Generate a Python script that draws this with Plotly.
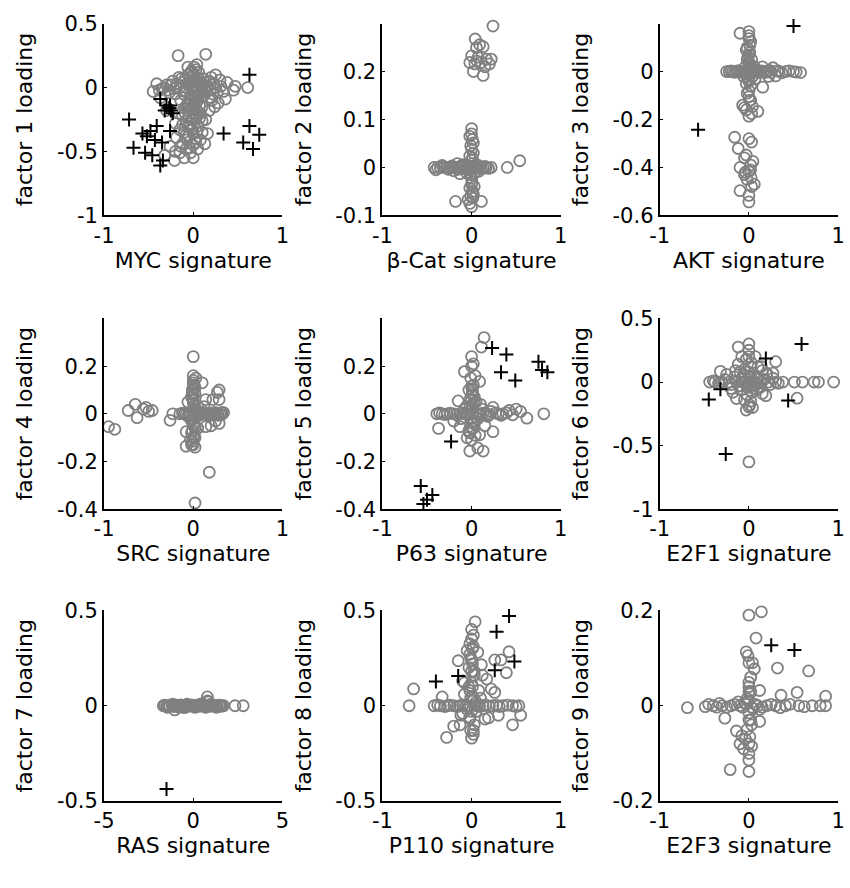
import plotly.graph_objects as go

# ---------------- data ----------------
x_titles = ["MYC signature", "β-Cat signature", "AKT signature",
            "SRC signature", "P63 signature", "E2F1 signature",
            "RAS signature", "P110 signature", "E2F3 signature"]
y_titles = ["factor %d loading" % i for i in range(1, 10)]

# Panel 1 (MYC)
p1_cx = [-0.17, 0.14, 0.01, 0.03, -0.06, 0.06, 0.25, -0.06, 0.38, 0.47, 0.61, 0.34, 0.36, 0.21, 0.18, 0.07, 0.16, 0.03, -0.08, -0.10,
         -0.21, -0.32, -0.41, -0.45, -0.37, -0.23, -0.15, 0.07, -0.03, -0.06, -0.12, -0.01, 0.08, -0.19, -0.26, -0.15, -0.03, 0.14, 0.25, 0.10,
         0.03, -0.14, -0.30, 0.14, -0.33, -0.28, -0.20, -0.10, 0.00, 0.02, -0.04, 0.05, 0.00, -0.02, 0.00, -0.05, -0.08, -0.03, 0.02, 0.05,
         -0.10, -0.05, 0.00, -0.12, 0.10, 0.12, 0.18, 0.30, 0.22, 0.28, -0.38, -0.25, 0.05, -0.08, 0.08, -0.16, -0.20, 0.10, 0.00, 0.45, 0.20,
         0.04, -0.02, 0.01, -0.07, 0.03, 0.06,
         -0.35, -0.30, -0.27, -0.22, -0.18, -0.12, -0.09, -0.05, -0.01, 0.02, 0.04, 0.07, 0.10, 0.13, 0.16, 0.19, 0.23, 0.27, 0.31, -0.01,
         0.03, -0.06, -0.02, 0.03, -0.09, 0.00, -0.04, 0.04, -0.07, 0.05, -0.14, -0.20, -0.10, 0.07, 0.10, -0.15, 0.13, -0.02, 0.02, -0.16,
         -0.04, 0.01, 0.04, -0.07, -0.11, 0.06, -0.03, 0.01, -0.05, 0.04, -0.02, -0.06, 0.00, -0.09, 0.02, -0.04, 0.09, 0.15, 0.11, -0.13,
         -0.19, 0.20, 0.24, 0.08, -0.12]
p1_cy = [0.25, 0.26, 0.16, 0.14, 0.16, 0.12, 0.10, 0.10, 0.04, 0.01, 0.00, -0.03, -0.09, -0.10, -0.18, -0.24, -0.36, -0.43, -0.48, -0.55,
         -0.57, -0.53, 0.03, -0.03, -0.08, 0.05, 0.00, 0.04, -0.06, -0.18, -0.29, -0.33, -0.41, -0.39, -0.46, -0.51, -0.51, 0.04, 0.00, -0.01,
         -0.13, -0.10, -0.18, -0.25, 0.00, -0.02, -0.05, -0.03, 0.00, -0.03, 0.04, 0.07, 0.09, -0.10, -0.15, -0.22, -0.26, -0.28, -0.20, -0.30,
         -0.35, -0.38, -0.45, -0.44, -0.15, -0.06, 0.05, 0.06, -0.05, -0.12, -0.02, 0.02, -0.10, 0.00, 0.02, -0.20, -0.28, -0.35, -0.55, -0.02, 0.08,
         0.18, 0.13, -0.07, -0.14, -0.24, -0.02,
         -0.01, 0.02, -0.04, -0.01, 0.03, 0.04, 0.07, 0.02, 0.05, 0.02, -0.01, -0.04, 0.02, -0.02, 0.00, -0.02, 0.03, -0.04, 0.01, -0.06,
         -0.08, -0.12, -0.17, -0.18, -0.20, -0.24, -0.31, -0.35, -0.41, -0.48, -0.46, -0.50, -0.16, -0.14, -0.26, -0.33, -0.44, 0.12, 0.07, 0.08,
         0.08, 0.10, 0.05, 0.03, -0.05, -0.07, -0.10, -0.12, -0.14, -0.22, -0.25, -0.30, -0.36, -0.38, -0.40, -0.47, 0.00, -0.03, 0.07, 0.07,
         0.00, -0.08, -0.15, -0.20, -0.22]
p1_px = [0.63, -0.37, -0.32, -0.26, -0.25, -0.23, -0.72, -0.57, -0.52, -0.48, -0.41, -0.43, -0.35, -0.26, -0.67, -0.54, -0.46, -0.34, -0.37,
         0.34, 0.63, 0.74, 0.56, 0.67, -0.30, -0.27]
p1_py = [0.10, -0.09, -0.18, -0.14, -0.18, -0.20, -0.25, -0.36, -0.38, -0.34, -0.30, -0.41, -0.43, -0.34, -0.47, -0.51, -0.53, -0.57, -0.61,
         -0.36, -0.30, -0.37, -0.43, -0.48, -0.14, -0.16]

# Panel 2 (beta-Cat)
p2_cx = [0.24, 0.04, 0.09, 0.13, 0.055, 0.00, 0.074, 0.165, 0.22, -0.02, 0.037, 0.11, 0.20, 0.02, 0.13, 0.06, 0.15,
         0.00, -0.02, 0.02, 0.00, -0.02, 0.02, 0.00, 0.01, -0.01, 0.00, -0.02, 0.02, -0.04, 0.00, 0.01, -0.18, 0.11, 0.00, 0.03,
         -0.42, -0.38, -0.35, -0.31, -0.28, -0.24, -0.20, -0.17, -0.13, -0.09, -0.055, -0.03, 0.03, 0.06, 0.09, 0.13, 0.165, 0.22,
         0.40, 0.54, -0.13, -0.20, -0.05, 0.07, -0.10,
         -0.40, -0.33, -0.26, -0.22, -0.15, -0.11, -0.07, -0.01, 0.01, 0.05, 0.11, 0.15, 0.19, 0.08, -0.16,
         0.00, 0.01, -0.01, 0.01, -0.005, 0.005, -0.01, 0.015, -0.02, 0.03]
p2_cy = [0.295, 0.268, 0.256, 0.252, 0.250, 0.233, 0.230, 0.226, 0.226, 0.219, 0.216, 0.219, 0.216, 0.200, 0.192, 0.222, 0.210,
         0.081, 0.065, 0.051, 0.038, 0.024, 0.030, 0.015, 0.008, -0.005, -0.023, -0.043, -0.056, -0.067, -0.035, -0.050, -0.071, -0.071, -0.082, -0.012,
         0.0, 0.0, 0.0, 0.0, 0.0, 0.0, 0.0, 0.0, 0.0, 0.0, 0.0, 0.0, 0.0, 0.0, 0.0, 0.0, 0.0, 0.0,
         0.0, 0.014, -0.013, -0.007, -0.012, 0.005, 0.006,
         -0.005, 0.004, -0.004, 0.003, -0.004, 0.003, -0.003, 0.002, -0.003, 0.003, -0.003, 0.002, -0.002, -0.008, 0.008,
         0.070, 0.058, 0.045, 0.020, -0.015, -0.030, -0.060, -0.064, -0.075, -0.040]
p2_px = []
p2_py = []

# Panel 3 (AKT)
p3_cx = [-0.10, 0.00, 0.00, 0.01, 0.00, 0.00, -0.03, 0.02, -0.02,
         -0.25, -0.22, -0.18, -0.14, -0.10, -0.06, -0.03, 0.03, 0.06, 0.09, 0.12, 0.16, 0.19, 0.27, 0.34, 0.41, 0.50, 0.58, 0.30, 0.155, 0.23,
         0.00, 0.00, 0.00, -0.07, 0.04, 0.10, 0.00, -0.02, 0.02,
         -0.16, 0.00, 0.03, -0.12, -0.03, 0.045, -0.10, 0.00, 0.025, 0.06, -0.10, 0.00, 0.00, 0.02, -0.05,
         -0.20, -0.16, -0.12, -0.08, -0.04, -0.01, 0.01, 0.05, 0.08, 0.11, 0.14, 0.18, 0.21, 0.25, 0.32, 0.37, 0.45, 0.53,
         0.00, 0.02, -0.02, 0.01, -0.01, 0.00, 0.01, -0.01, 0.00, 0.02, -0.02, 0.01, -0.03, 0.03, -0.05,
         -0.05, 0.02, -0.02, 0.03, -0.04,
         -0.04, 0.04, -0.03, 0.03, 0.06, -0.06, 0.07, 0.15, 0.22]
p3_cy = [0.16, 0.167, 0.138, 0.11, 0.07, 0.04, 0.09, 0.02, 0.05,
         0.0, 0.0, 0.0, 0.0, 0.0, 0.0, 0.0, 0.0, 0.0, 0.0, 0.0, 0.0, 0.0, 0.016, 0.0, 0.0, 0.0, -0.004, -0.018, -0.065, 0.005,
         -0.04, -0.08, -0.105, -0.14, -0.146, -0.166, -0.186, -0.02, -0.12,
         -0.274, -0.28, -0.294, -0.321, -0.348, -0.375, -0.40, -0.416, -0.443, -0.47, -0.497, -0.517, -0.544, -0.39, -0.43,
         0.003, -0.003, 0.004, -0.004, 0.003, -0.002, 0.003, -0.003, 0.004, -0.004, 0.003, -0.004, 0.003, -0.004, 0.004, -0.005, 0.003, -0.002,
         0.15, 0.125, 0.10, 0.08, 0.06, 0.03, 0.015, -0.01, -0.03, -0.06, -0.09, -0.12, -0.16, -0.175, -0.15,
         -0.36, -0.41, -0.45, -0.48, -0.42,
         0.02, -0.02, -0.05, 0.05, 0.02, -0.02, -0.03, 0.02, -0.02]
p3_px = [0.50, -0.57]
p3_py = [0.19, -0.243]

# Panel 4 (SRC)
p4_cx = [-0.95, -0.88, -0.73, -0.65, -0.63, -0.56, -0.53, -0.50, -0.46, -0.26, -0.23,
         0.00, 0.00, 0.10, 0.14, 0.29, 0.27, 0.29, -0.06, 0.02, 0.00, 0.05, -0.02,
         -0.15, -0.10, -0.05, 0.03, 0.08, 0.12, 0.17, 0.21, 0.25, 0.30,
         0.29, 0.14, -0.08, 0.02, -0.08, 0.00, 0.05, 0.18, 0.02, 0.00, -0.03, 0.03,
         0.00, 0.01, -0.01, 0.02, -0.02, 0.00, 0.01, -0.01, 0.00, 0.02, -0.02, 0.01, -0.01, 0.02, -0.02, 0.03,
         -0.12, -0.08, -0.03, 0.05, 0.10, 0.15, 0.19, 0.23, 0.27, 0.32, 0.34, 0.25, 0.20, 0.22, 0.12,
         0.00, 0.01, -0.01, 0.00, 0.01, -0.01, 0.00, 0.01, -0.01, 0.00, 0.07, 0.13, 0.18, 0.24, 0.28, 0.32, -0.06, 0.04]
p4_cy = [-0.054, -0.065, 0.014, 0.04, -0.016, 0.02, 0.027, 0.01, 0.014, -0.027, 0.0,
         0.24, 0.16, 0.13, 0.06, 0.10, 0.09, 0.06, 0.05, 0.11, 0.08, 0.03, -0.03,
         0.0, 0.0, 0.0, 0.0, 0.0, 0.0, 0.0, 0.0, 0.0, 0.0,
         -0.04, -0.054, -0.075, -0.10, -0.136, -0.13, -0.06, -0.245, -0.374, 0.12, -0.11, 0.02,
         0.14, 0.12, 0.10, 0.085, 0.07, 0.045, 0.02, -0.02, -0.04, -0.06, -0.08, -0.095, -0.115, -0.14, -0.13, 0.15,
         0.003, -0.003, 0.003, -0.003, 0.003, -0.003, 0.003, -0.003, 0.003, -0.003, 0.005, -0.03, -0.05, 0.06, 0.03,
         0.13, 0.11, 0.09, 0.06, 0.035, 0.01, -0.01, -0.05, -0.07, -0.1, -0.006, 0.006, -0.006, 0.006, -0.006, 0.006, -0.01, 0.01]
p4_px = []
p4_py = []

# Panel 5 (P63)
p5_cx = [0.14, 0.11, 0.00, -0.08, 0.02, 0.09, 0.00, -0.15, 0.03, 0.04, -0.02, 0.01,
         -0.39, -0.33, -0.27, -0.20, -0.13, -0.07, 0.05, 0.10, 0.17, 0.24, 0.30, 0.35, 0.42, 0.50, 0.55, 0.62, 0.81,
         -0.37, -0.13, 0.00, 0.09, 0.24, -0.02, 0.07, 0.13, 0.03, -0.05, 0.06,
         0.00, -0.01, 0.02, -0.03, 0.01, -0.02, 0.03, 0.00, -0.01, 0.02, -0.03, 0.04, 0.00, 0.05, -0.06,
         -0.36, -0.30, -0.24, -0.17, -0.10, -0.04, 0.02, 0.08, 0.13, 0.20, 0.27, 0.33, 0.39, 0.46, 0.15, -0.20, 0.10,
         0.00, 0.01, -0.01, 0.00, 0.02, -0.02, 0.01, -0.08, 0.07, -0.12, 0.12, 0.18, 0.22]
p5_cy = [0.32, 0.28, 0.24, 0.177, 0.21, 0.136, 0.116, 0.054, 0.07, 0.16, 0.03, 0.09,
         0.0, 0.0, 0.0, 0.0, 0.0, 0.0, 0.0, 0.0, 0.0, 0.027, 0.0, 0.0, 0.014, 0.02, 0.01, -0.018, 0.0,
         -0.061, -0.054, -0.06, -0.088, -0.075, -0.156, -0.143, -0.156, -0.03, -0.10, -0.02,
         0.20, 0.15, 0.12, 0.10, 0.08, 0.06, 0.045, 0.025, -0.02, -0.04, -0.07, -0.09, -0.11, 0.05, 0.03,
         0.004, -0.003, 0.003, -0.004, 0.003, -0.003, 0.002, -0.003, 0.003, -0.003, 0.004, -0.006, 0.004, -0.004, -0.05, -0.03, 0.04,
         0.06, 0.035, 0.015, -0.035, -0.06, -0.08, 0.1, 0.02, -0.02, -0.02, 0.02, -0.01, 0.01]
p5_px = [0.23, 0.39, 0.75, 0.79, 0.85, 0.33, 0.49, -0.23, -0.57, -0.44, -0.50, -0.54]
p5_py = [0.276, 0.249, 0.218, 0.184, 0.174, 0.174, 0.14, -0.116, -0.303, -0.34, -0.36, -0.378]

# Panel 6 (E2F1)
p6_cx = [0.00, -0.12, 0.30, 0.14, -0.32, 0.27, 0.00, 0.03, -0.05, 0.00, 0.05, -0.02, 0.02, -0.08, 0.08,
         -0.44, -0.38, -0.30, -0.22, -0.14, -0.07, 0.07, 0.14, 0.22, 0.30, 0.38, 0.51, 0.60, 0.73, 0.78, 0.95,
         0.54, -0.14, 0.19, 0.00, -0.03, 0.00, -0.20, 0.20, 0.10, -0.10,
         -0.40, -0.34, -0.27, -0.20, -0.16, -0.11, -0.06, -0.02, 0.02, 0.06, 0.10, 0.13, 0.17, 0.24, 0.27, 0.33,
         0.00, -0.03, 0.02, -0.01, 0.04, -0.05, 0.01, 0.04, -0.12, 0.10, 0.15, -0.18, -0.25, 0.20, -0.08, 0.07,
         -0.04, 0.04, -0.09, 0.09, -0.15, 0.15, 0.0, 0.0]
p6_cy = [0.30, 0.275, 0.16, 0.122, 0.084, 0.07, 0.20, 0.15, 0.10, 0.05, -0.05, -0.10, -0.15, 0.03, 0.03,
         0.0, 0.0, 0.0, 0.0, 0.0, 0.0, 0.0, 0.0, 0.0, 0.0, 0.0, 0.0, 0.0, 0.0, 0.0, 0.0,
         -0.127, -0.13, -0.107, -0.196, -0.22, -0.628, -0.05, 0.06, -0.04, 0.08,
         0.01, -0.01, 0.02, -0.02, 0.04, -0.03, 0.05, -0.04, 0.04, -0.02, 0.03, -0.04, 0.02, -0.02, 0.03, -0.01,
         0.25, 0.18, 0.12, 0.08, -0.08, -0.14, -0.18, -0.20, 0.14, 0.12, -0.09, -0.08, 0.06, 0.07, 0.20, 0.20,
         0.0, 0.0, -0.06, -0.06, 0.09, 0.09, 0.02, -0.02]
p6_px = [0.59, 0.19, -0.32, -0.45, 0.44, -0.26]
p6_py = [0.30, 0.186, -0.056, -0.137, -0.145, -0.565]

# Panel 7 (RAS)
p7_cx = [-1.68, -1.50, -1.32, -1.04, -0.90, -0.77, -0.60, -0.45, -0.30, -0.15, 0.00, 0.15, 0.30, 0.45, 0.60, 0.79, 0.90, 1.05,
         1.20, 1.35, 1.50, 1.60, 2.34, 2.80, 0.85, -0.50, 0.50,
         -1.60, -1.40, -1.20, -1.10, -0.95, -0.85, -0.70, -0.55, -0.40, -0.25, -0.10, 0.05, 0.20, 0.35, 0.65, 0.75, 0.95, 1.10,
         1.25, 1.45, 1.55, 0.80,
         -1.45, -1.15, -0.80, -0.35, 0.10, 0.40, 0.70, 1.00, 1.30, 1.70]
p7_cy = [0.0, 0.0, 0.0, -0.022, 0.0, 0.0, 0.0, 0.0, 0.0, 0.0, 0.0, 0.0, 0.0, 0.0, 0.0, 0.046, 0.0, 0.0,
         0.0, 0.0, 0.0, 0.0, 0.0, 0.0, 0.02, -0.01, 0.01,
         0.003, -0.003, 0.004, -0.004, 0.003, -0.003, 0.004, -0.004, 0.003, -0.003, 0.004, -0.004, 0.003, -0.003, -0.004, 0.003, -0.003, 0.004,
         -0.004, 0.003, -0.003, 0.025,
         -0.008, 0.008, -0.008, 0.008, -0.008, 0.008, -0.008, 0.008, -0.008, 0.0]
p7_px = [-1.5]
p7_py = [-0.437]

# Panel 8 (P110)
p8_cx = [0.04, 0.00, 0.02, -0.02, -0.05, 0.00, -0.15, 0.11, 0.26, 0.33, 0.42, 0.39, 0.22, 0.26, 0.17, 0.03, -0.03, 0.01,
         -0.65, -0.70, -0.33, -0.42, -0.35, -0.27, -0.20, -0.13, -0.06, 0.06, 0.13, 0.24, 0.35, 0.46, 0.53,
         0.55, 0.46, 0.19, -0.28, -0.20, -0.13, 0.02, -0.02, 0.05, -0.08,
         0.00, 0.02, -0.02, 0.01, -0.03, 0.03, 0.00, -0.02, 0.02, 0.00, -0.02, 0.03, -0.01, 0.02, 0.00,
         -0.38, -0.30, -0.24, -0.16, -0.10, -0.03, 0.03, 0.09, 0.16, 0.20, 0.28, 0.31, 0.40, 0.50,
         -0.08, 0.08, 0.12, -0.10, 0.15, -0.12, 0.30, 0.07,
         0.01, -0.01, 0.00, 0.01, -0.01, 0.05, -0.05, 0.1, -0.1]
p8_cy = [0.44, 0.40, 0.37, 0.325, 0.29, 0.24, 0.236, 0.215, 0.24, 0.24, 0.283, 0.173, 0.088, 0.07, 0.14, 0.18, 0.10, 0.05,
         0.088, 0.0, 0.046, 0.0, 0.0, 0.0, 0.0, 0.0, 0.0, 0.0, 0.0, 0.0, 0.0, 0.0, 0.0,
         -0.05, -0.10, -0.064, -0.166, -0.107, -0.10, -0.13, -0.06, -0.03, 0.12,
         0.35, 0.31, 0.27, 0.22, 0.20, 0.16, 0.12, 0.08, 0.03, -0.03, -0.07, -0.10, -0.13, -0.15, -0.17,
         0.004, -0.004, 0.003, -0.004, 0.003, -0.003, 0.003, -0.004, 0.004, -0.003, 0.003, -0.004, 0.003, -0.004,
         0.06, 0.08, 0.16, 0.13, -0.07, -0.05, -0.05, 0.28,
         0.30, 0.25, 0.18, 0.10, 0.04, 0.02, -0.02, 0.04, -0.04]
p8_px = [0.42, 0.28, 0.48, 0.26, -0.15, -0.40]
p8_py = [0.47, 0.388, 0.232, 0.186, 0.156, 0.127]

# Panel 9 (E2F3)
p9_cx = [0.14, 0.00, 0.08, -0.03, 0.00, 0.06, 0.32, 0.67, 0.00, 0.12, 0.36, 0.54, 0.86, 0.02, -0.02,
         -0.69, -0.49, -0.40, -0.30, -0.20, -0.10, 0.10, 0.20, 0.30, 0.41, 0.56, 0.71, 0.80, 0.86,
         -0.27, 0.12, -0.14, -0.08, -0.10, 0.00, 0.00, 0.00, -0.21, 0.00, 0.03,
         -0.45, -0.36, -0.33, -0.25, -0.16, -0.07, -0.03, 0.03, 0.07, 0.15, 0.25, 0.35, 0.46, 0.62,
         0.00, 0.01, -0.01, 0.00, 0.02, -0.02, 0.01, -0.04, 0.03, -0.06, 0.02, -0.01, 0.04,
         -0.05, 0.05, -0.12, 0.12, 0.0, 0.0]
p9_cy = [0.197, 0.19, 0.142, 0.113, 0.09, 0.077, 0.079, 0.073, 0.049, 0.032, 0.022, 0.028, 0.02, 0.03, 0.015,
         -0.004, -0.002, 0.0, 0.0, 0.0, 0.0, 0.0, 0.0, 0.0, 0.0, 0.0, 0.0, 0.0, 0.0,
         -0.026, -0.033, -0.053, -0.063, -0.08, -0.08, -0.10, -0.114, -0.134, -0.138, -0.04,
         0.003, -0.003, 0.005, -0.003, 0.003, -0.003, 0.003, -0.003, 0.003, -0.003, 0.003, -0.004, 0.003, -0.002,
         0.04, 0.025, 0.01, -0.015, -0.03, -0.05, -0.065, -0.07, -0.085, -0.09, 0.06, 0.105, 0.09,
         0.006, -0.006, 0.008, -0.008, 0.03, -0.03]
p9_px = [0.25, 0.51]
p9_py = [0.127, 0.117]

circ_x = [p1_cx, p2_cx, p3_cx, p4_cx, p5_cx, p6_cx, p7_cx, p8_cx, p9_cx]
circ_y = [p1_cy, p2_cy, p3_cy, p4_cy, p5_cy, p6_cy, p7_cy, p8_cy, p9_cy]
plus_x = [p1_px, p2_px, p3_px, p4_px, p5_px, p6_px, p7_px, p8_px, p9_px]
plus_y = [p1_py, p2_py, p3_py, p4_py, p5_py, p6_py, p7_py, p8_py, p9_py]

x_ranges = [[-1, 1]] * 6 + [[-5, 5]] + [[-1, 1]] * 2
x_ticks = [[-1, 0, 1]] * 6 + [[-5, 0, 5]] + [[-1, 0, 1]] * 2
y_ranges = [[-1, 0.5], [-0.1, 0.3], [-0.6, 0.2], [-0.4, 0.4], [-0.4, 0.4], [-1, 0.5],
            [-0.5, 0.5], [-0.5, 0.5], [-0.2, 0.2]]
y_ticks = [[-1, -0.5, 0, 0.5], [-0.1, 0, 0.1, 0.2], [-0.6, -0.4, -0.2, 0], [-0.4, -0.2, 0, 0.2],
           [-0.4, -0.2, 0, 0.2], [-1, -0.5, 0, 0.5], [-0.5, 0, 0.5], [-0.5, 0, 0.5], [-0.2, 0, 0.2]]

# ---------------- figure ----------------
W, H = 850, 888
col_px = [(96, 278), (380, 562), (663, 845)]
row_px = [(12, 209), (315, 511), (615, 811)]

FONT = "DejaVu Sans"


def fmt(v):
    return "%g" % v


fig = go.Figure()
layout = dict(width=W, height=H, margin=dict(l=0, r=0, t=0, b=0),
              paper_bgcolor="white", plot_bgcolor="white", showlegend=False,
              font=dict(family=FONT, size=21, color="black"))

for i in range(9):
    r, c = divmod(i, 3)
    n = "" if i == 0 else str(i + 1)
    xa, ya = "x" + n, "y" + n
    fig.add_trace(go.Scatter(x=circ_x[i], y=circ_y[i], mode="markers", xaxis=xa, yaxis=ya,
                             cliponaxis=False,
                             marker=dict(symbol="circle-open", size=11, color="#808080",
                                         line=dict(width=1.8, color="#808080"))))
    if plus_x[i]:
        fig.add_trace(go.Scatter(x=plus_x[i], y=plus_y[i], mode="markers", xaxis=xa, yaxis=ya,
                                 cliponaxis=False,
                                 marker=dict(symbol="cross-thin-open", size=10, color="black",
                                             line=dict(width=2, color="black"))))
    x0, x1 = col_px[c]
    y0, y1 = row_px[r]
    common = dict(showline=True, linecolor="black", linewidth=2, ticks="inside", ticklen=3,
                  tickwidth=1, tickcolor="black", showgrid=False, zeroline=False, mirror=False,
                  tickfont=dict(family=FONT, size=21, color="black"))
    layout["xaxis" + n] = dict(common, domain=[x0 / W, x1 / W], anchor=ya, range=x_ranges[i],
                               tickmode="array", tickvals=x_ticks[i],
                               ticktext=[fmt(v) for v in x_ticks[i]],
                               title=dict(text=x_titles[i], font=dict(family=FONT, size=22), standoff=3))
    layout["yaxis" + n] = dict(common, domain=[1 - y1 / H, 1 - y0 / H], anchor=xa, range=y_ranges[i],
                               tickmode="array", tickvals=y_ticks[i],
                               ticktext=[fmt(v) for v in y_ticks[i]],
                               title=dict(text=y_titles[i], font=dict(family=FONT, size=22), standoff=18))

fig.update_layout(**layout)
fig.write_html("out.html")
